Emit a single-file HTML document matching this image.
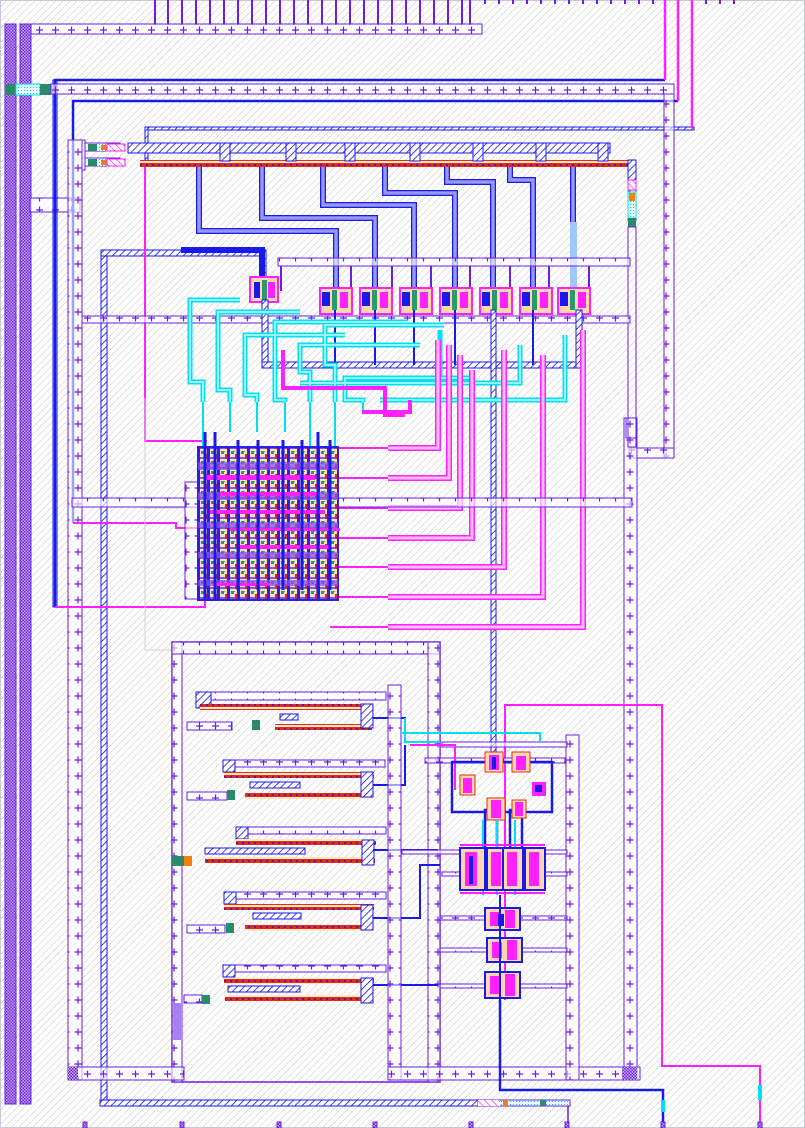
<!DOCTYPE html>
<html><head><meta charset="utf-8"><style>
html,body{margin:0;padding:0;background:#fff}
svg{display:block}
</style></head><body>
<svg width="805" height="1128" viewBox="0 0 805 1128" xmlns="http://www.w3.org/2000/svg" font-family="Liberation Sans, sans-serif">
<defs>
<pattern id="bg" width="5" height="5" patternUnits="userSpaceOnUse" patternTransform="rotate(-45)">
<rect width="5" height="5" fill="#fff"/><line x1="0" y1="0" x2="5" y2="0" stroke="#c4c4c4" stroke-width="1"/></pattern>
<pattern id="hb" width="5" height="5" patternUnits="userSpaceOnUse" patternTransform="rotate(-45)">
<rect width="5" height="5" fill="#fff"/><line x1="0" y1="0" x2="5" y2="0" stroke="#1010e0" stroke-width="1.6"/></pattern>
<pattern id="hp" width="5" height="5" patternUnits="userSpaceOnUse" patternTransform="rotate(45)">
<rect width="5" height="5" fill="#fff"/><line x1="0" y1="0" x2="5" y2="0" stroke="#ff20ff" stroke-width="1.4"/></pattern>
<pattern id="cy" width="3" height="3" patternUnits="userSpaceOnUse">
<rect width="3" height="3" fill="#e8ffff"/><rect width="1" height="1" fill="#00d8e8"/></pattern>
<pattern id="chk" width="3" height="3" patternUnits="userSpaceOnUse">
<rect width="3" height="3" fill="#c9b0f0"/><rect width="1.5" height="1.5" fill="#6a1ee0"/><rect x="1.5" y="1.5" width="1.5" height="1.5" fill="#6a1ee0"/></pattern>
<pattern id="plh" width="16" height="12" patternUnits="userSpaceOnUse">
<rect width="16" height="12" fill="#fff" fill-opacity="0.6"/><path d="M4 6h7M7.5 2.5v7" stroke="#6a1ee0" stroke-width="1.2"/></pattern>
<pattern id="plv" width="12" height="16" patternUnits="userSpaceOnUse">
<rect width="12" height="16" fill="#fff" fill-opacity="0.6"/><path d="M2.5 8h7M6 4.5v7" stroke="#6a1ee0" stroke-width="1.2"/></pattern>
<pattern id="red" width="6" height="6" patternUnits="userSpaceOnUse">
<rect width="6" height="6" fill="#ffe8c8"/><rect y="1" width="6" height="4" fill="#e82a10"/><circle cx="3" cy="3" r="1" fill="#1a1ae8"/></pattern>
<pattern id="mat" width="10" height="10" patternUnits="userSpaceOnUse">
<rect width="10" height="10" fill="#ffe0c0"/><rect x="1" y="1" width="3" height="3" fill="#2a9a6a"/><rect x="5" y="4" width="2" height="5" fill="#e02a10"/><rect x="7" y="0" width="3" height="10" fill="#2a20e8"/><rect x="0" y="7" width="5" height="2" fill="#8a50f0"/><rect x="4" y="1" width="1" height="1" fill="#20e020"/></pattern>
</defs>
<rect width="805" height="1128" fill="url(#bg)"/>
<rect x="0.5" y="0.5" width="804" height="1127" fill="none" stroke="#c8c8d8"/>

<!-- top pins -->
<g stroke="#6a1ee0" stroke-width="2">
<path d="M155 0v25M168 0v25M182 0v25M196 0v25M210 0v25M224 0v25M238 0v25M252 0v25M266 0v25M280 0v25M294 0v25M308 0v25M322 0v25M336 0v25M350 0v25M364 0v25M378 0v25M392 0v25M406 0v25M420 0v25M434 0v25M448 0v25M462 0v25M470 0v25"/>
</g>
<g fill="#6a1ee0"><rect x="484" y="0" width="2" height="4"/><rect x="498" y="0" width="2" height="4"/><rect x="512" y="0" width="2" height="4"/><rect x="526" y="0" width="2" height="4"/><rect x="540" y="0" width="2" height="4"/><rect x="554" y="0" width="2" height="4"/><rect x="568" y="0" width="2" height="4"/><rect x="582" y="0" width="2" height="4"/><rect x="596" y="0" width="2" height="4"/><rect x="610" y="0" width="2" height="4"/><rect x="624" y="0" width="2" height="4"/><rect x="638" y="0" width="2" height="4"/><rect x="652" y="0" width="2" height="4"/><rect x="705" y="0" width="2" height="4"/><rect x="719" y="0" width="2" height="4"/><rect x="733" y="0" width="2" height="4"/></g>

<!-- left bars -->
<rect x="5" y="24" width="11" height="1080" fill="url(#chk)" stroke="#6a1ee0"/>
<rect x="20" y="24" width="11" height="1080" fill="url(#chk)" stroke="#6a1ee0"/>
<rect x="5" y="84" width="11" height="11" fill="#2a8a6a"/><rect x="16" y="84" width="24" height="11" fill="url(#cy)" stroke="#00e0f0"/><rect x="40" y="84" width="11" height="11" fill="#2a8a6a"/>
<rect x="31" y="24" width="451" height="10" fill="url(#plh)" stroke="#6a1ee0"/>
<rect x="30" y="198" width="50" height="14" fill="url(#plh)" stroke="#6a1ee0"/>

<!-- upper rails -->
<path d="M55 607V80H665" fill="none" stroke="#1a1ae8" stroke-width="2.5"/>
<rect x="53" y="80" width="4" height="527" fill="none" stroke="#1a1ae8" stroke-width="1"/>
<rect x="51" y="84" width="623" height="10" fill="url(#plh)" stroke="#6a1ee0"/>
<path d="M73 523V101H678" fill="none" stroke="#1a1ae8" stroke-width="2.5"/>
<rect x="145" y="127" width="549" height="3" fill="url(#hb)" stroke="#1a1ae8"/>
<rect x="145" y="127" width="3" height="38" fill="url(#hb)" stroke="#1a1ae8"/>
<path d="M665 0v80M678 0v101M692 0v128" stroke="#ff20ff" stroke-width="2.5"/>
<rect x="664" y="94" width="10" height="364" fill="url(#plv)" stroke="#6a1ee0"/>
<rect x="629" y="448" width="45" height="10" fill="url(#plh)" stroke="#6a1ee0"/>
<rect x="624" y="418" width="13" height="662" fill="url(#plv)" stroke="#6a1ee0"/>
<rect x="626" y="418" width="10" height="20" fill="none" stroke="#6a1ee0"/>

<!-- left frame -->
<rect x="68" y="140" width="14" height="940" fill="url(#plv)" stroke="#6a1ee0"/>
<rect x="82" y="140" width="3" height="30" fill="none" stroke="#6a1ee0"/>
<rect x="101" y="250" width="6" height="855" fill="url(#hb)" stroke="#1a1ae8"/>
<rect x="101" y="250" width="160" height="6" fill="url(#hb)" stroke="#1a1ae8"/>
<rect x="260" y="250" width="6" height="40" fill="url(#hb)" stroke="#1a1ae8"/>
<path d="M145 165V441H207" fill="none" stroke="#ff20ff" stroke-width="2"/>
<path d="M55 607H205V590M73 523H176V528H205" fill="none" stroke="#ff20ff" stroke-width="2"/>
<path d="M145 398V650H395M145 508H395" fill="none" stroke="#d0d0d8" stroke-width="1"/>

<!-- top bus -->
<rect x="85" y="143" width="35" height="8" fill="none" stroke="#6a1ee0"/>
<rect x="85" y="158" width="35" height="8" fill="none" stroke="#6a1ee0"/>
<rect x="88" y="144" width="9" height="7" fill="#2a8a6a"/><rect x="88" y="159" width="9" height="7" fill="#2a8a6a"/>
<rect x="97" y="144" width="10" height="7" fill="url(#cy)"/><rect x="101" y="145" width="6" height="5" fill="#f08010"/>
<rect x="97" y="159" width="10" height="7" fill="url(#cy)"/><rect x="101" y="160" width="6" height="5" fill="#f08010"/>
<rect x="107" y="144" width="18" height="7" fill="url(#hp)" stroke="#ff20ff"/><rect x="107" y="159" width="18" height="7" fill="url(#hp)" stroke="#ff20ff"/>
<rect x="128" y="143" width="482" height="10" fill="url(#hb)" stroke="#1a1ae8"/>
<rect x="140" y="160" width="490" height="7" fill="url(#red)"/>
<g fill="url(#hb)" stroke="#1a1ae8">
<rect x="220" y="143" width="10" height="18"/><rect x="286" y="143" width="10" height="18"/><rect x="345" y="143" width="10" height="18"/><rect x="410" y="143" width="10" height="18"/><rect x="473" y="143" width="10" height="18"/><rect x="536" y="143" width="10" height="18"/><rect x="598" y="143" width="10" height="18"/>
</g>
<rect x="628" y="160" width="8" height="60" fill="url(#hb)" stroke="#1a1ae8"/>
<rect x="628" y="180" width="8" height="10" fill="url(#hp)" stroke="#ff20ff"/>
<rect x="628" y="192" width="8" height="26" fill="url(#cy)" stroke="#00e0f0"/><rect x="629" y="193" width="6" height="8" fill="#f08010"/>
<rect x="628" y="218" width="8" height="9" fill="#2a8a6a"/>
<rect x="628" y="227" width="8" height="220" fill="none" stroke="#6a1ee0"/>

<!-- branch routes -->
<g fill="none" stroke="#1a1ae8" stroke-width="6">
<path d="M199 167V231H336V290"/>
<path d="M262 167V218H375V290"/>
<path d="M323 167V205H414V290"/>
<path d="M385 167V193H455V290"/>
<path d="M447 167V182H493V290"/>
<path d="M510 167V180H533V290"/>
<path d="M573 167V222"/>
<path d="M181 250H262V290"/>
</g>
<g fill="none" stroke="#fff" stroke-width="3.5" opacity="0.55">
<path d="M199 167V231H336V290M262 167V218H375V290M323 167V205H414V290M385 167V193H455V290M447 167V182H493V290M510 167V180H533V290M573 167V222"/>
</g>
<rect x="570" y="222" width="7" height="66" fill="#a0c8ff"/>

<!-- transistor row rail -->
<rect x="278" y="258" width="352" height="8" fill="url(#plh)" stroke="#6a1ee0"/>
<rect x="82" y="316" width="548" height="7" fill="url(#plh)" stroke="#6a1ee0"/>
<g stroke="#6a1ee0" stroke-width="2"><path d="M281 266v25M351 266v25M392 266v25M431 266v25M470 266v25M510 266v25M549 266v25M589 266v25"/></g>

<!-- transistors -->
<g id="tr">
<g>
<rect x="250" y="277" width="28" height="25" fill="#ffd8b0" stroke="#ff20ff" stroke-width="2"/>
<rect x="254" y="282" width="6" height="16" fill="#1a1ae8"/><rect x="262" y="280" width="5" height="20" fill="#2a9a6a"/><rect x="268" y="282" width="7" height="16" fill="#ff20ff"/>
</g>
</g>
<g>
<rect x="320" y="288" width="32" height="26" fill="#ffd8b0" stroke="#ff20ff" stroke-width="2"/><rect x="322" y="292" width="8" height="14" fill="#1a1ae8"/><rect x="332" y="290" width="5" height="20" fill="#2a9a6a"/><rect x="340" y="292" width="8" height="16" fill="#ff20ff"/>
<rect x="360" y="288" width="32" height="26" fill="#ffd8b0" stroke="#ff20ff" stroke-width="2"/><rect x="362" y="292" width="8" height="14" fill="#1a1ae8"/><rect x="372" y="290" width="5" height="20" fill="#2a9a6a"/><rect x="380" y="292" width="8" height="16" fill="#ff20ff"/>
<rect x="400" y="288" width="32" height="26" fill="#ffd8b0" stroke="#ff20ff" stroke-width="2"/><rect x="402" y="292" width="8" height="14" fill="#1a1ae8"/><rect x="412" y="290" width="5" height="20" fill="#2a9a6a"/><rect x="420" y="292" width="8" height="16" fill="#ff20ff"/>
<rect x="440" y="288" width="32" height="26" fill="#ffd8b0" stroke="#ff20ff" stroke-width="2"/><rect x="442" y="292" width="8" height="14" fill="#1a1ae8"/><rect x="452" y="290" width="5" height="20" fill="#2a9a6a"/><rect x="460" y="292" width="8" height="16" fill="#ff20ff"/>
<rect x="480" y="288" width="32" height="26" fill="#ffd8b0" stroke="#ff20ff" stroke-width="2"/><rect x="482" y="292" width="8" height="14" fill="#1a1ae8"/><rect x="492" y="290" width="5" height="20" fill="#2a9a6a"/><rect x="500" y="292" width="8" height="16" fill="#ff20ff"/>
<rect x="520" y="288" width="32" height="26" fill="#ffd8b0" stroke="#ff20ff" stroke-width="2"/><rect x="522" y="292" width="8" height="14" fill="#1a1ae8"/><rect x="532" y="290" width="5" height="20" fill="#2a9a6a"/><rect x="540" y="292" width="8" height="16" fill="#ff20ff"/>
<rect x="558" y="288" width="32" height="26" fill="#ffd8b0" stroke="#ff20ff" stroke-width="2"/><rect x="560" y="292" width="8" height="14" fill="#1a1ae8"/><rect x="570" y="290" width="5" height="20" fill="#2a9a6a"/><rect x="578" y="292" width="8" height="16" fill="#ff20ff"/>
</g>

<!-- blue collector -->
<rect x="262" y="300" width="6" height="66" fill="url(#hb)" stroke="#1a1ae8"/>
<rect x="262" y="362" width="320" height="6" fill="url(#hb)" stroke="#1a1ae8"/>
<rect x="576" y="310" width="6" height="58" fill="url(#hb)" stroke="#1a1ae8"/>
<g stroke="#1a1ae8" stroke-width="2"><path d="M335 310v55M375 310v55M414 310v55M455 310v55M533 310v55"/></g>
<rect x="491" y="310" width="5" height="450" fill="url(#hb)" stroke="#1a1ae8"/>

<!-- cyan routes -->
<g fill="none" stroke="#00e0f0" stroke-width="5">
<path d="M203 402V382H190V300H240"/>
<path d="M230 402V390H218V312H300"/>
<path d="M257 402V395H245V335H345"/>
<path d="M285 402V400H275V322H408"/>
<path d="M310 402V372H300V345H420"/>
<path d="M335 402V365H325V325H444"/>
<path d="M363 402V400H345V378H470"/>
<path d="M520 345V383H300"/>
<path d="M565 335V400H380"/>
<path d="M440 330V380H345"/>
</g>
<g fill="none" stroke="#fff" stroke-width="2" opacity="0.6">
<path d="M203 402V382H190V300H240M230 402V390H218V312H300M257 402V395H245V335H345M285 402V400H275V322H408M310 402V372H300V345H420M335 402V365H325V325H444M363 402V400H345V378H470M520 345V383H300M565 335V400H380"/>
</g>
<g stroke="#00e0f0" stroke-width="2"><path d="M203 402v45M230 402v30M257 402v30M285 402v30M310 402v45M335 402v45M363 402v10"/></g>
<path d="M283 350V388H385V415H405M362 412H410V400" fill="none" stroke="#ff20ff" stroke-width="4"/>

<!-- pink L routes -->
<g fill="none" stroke="#ff20ff" stroke-width="6">
<path d="M388 448H438V340"/><path d="M388 478H449V345"/><path d="M388 508H460V355"/><path d="M388 538H472V370"/>
<path d="M388 567H504V350"/><path d="M388 597H543V355"/><path d="M388 627H583V330"/>
</g>
<g fill="none" stroke="#fff" stroke-width="3" opacity="0.7">
<path d="M388 448H438V340M388 478H449V345M388 508H460V355M388 538H472V370M388 567H504V350M388 597H543V355M388 627H583V330"/>
</g>
<g stroke="#ff20ff" stroke-width="2"><path d="M330 448H388M330 478H388M330 508H388M330 538H388M330 567H388M330 597H388M330 627H388"/></g>

<!-- horizontal rail mid -->
<rect x="72" y="498" width="560" height="9" fill="url(#plh)" stroke="#6a1ee0"/>

<!-- matrix -->
<rect x="185" y="482" width="15" height="117" fill="url(#plv)" stroke="#6a1ee0"/>
<rect x="198" y="447" width="140" height="153" fill="url(#mat)" stroke="#2a20e8" stroke-width="2"/>
<g fill="#8a50f0" opacity="0.75"><rect x="198" y="462" width="140" height="8"/><rect x="198" y="492" width="140" height="8"/><rect x="198" y="522" width="140" height="6"/><rect x="198" y="552" width="140" height="6"/><rect x="198" y="580" width="140" height="6"/></g>
<g fill="#ff20ff"><rect x="205" y="475" width="110" height="5"/><rect x="220" y="492" width="100" height="4"/><rect x="210" y="510" width="115" height="4"/><rect x="230" y="528" width="110" height="3"/><rect x="240" y="545" width="90" height="4"/><rect x="215" y="583" width="55" height="3"/></g>
<g stroke="#1a1ae8" stroke-width="3"><path d="M205 432V600M215 432V600M238 440V590M258 440V590M283 440V590M302 440V590M318 432V595M330 440V590"/></g>

<!-- bottom-left block -->
<rect x="172" y="642" width="268" height="440" fill="none" stroke="#6a1ee0" stroke-width="1.5"/>
<rect x="172" y="642" width="10" height="440" fill="url(#plv)" stroke="#6a1ee0"/>
<rect x="172" y="642" width="268" height="12" fill="url(#plh)" stroke="#6a1ee0"/>
<rect x="428" y="642" width="12" height="440" fill="url(#plv)" stroke="#6a1ee0"/>
<rect x="68" y="1067" width="116" height="13" fill="url(#plh)" stroke="#6a1ee0"/>
<rect x="68" y="1067" width="10" height="13" fill="url(#chk)"/>
<rect x="173" y="1003" width="8" height="37" fill="#a880f0"/>

<!-- resistor-like devices -->
<g>
<rect x="196" y="692" width="190" height="8" fill="url(#plh)" stroke="#6a1ee0"/>
<rect x="196" y="692" width="15" height="16" fill="url(#hb)" stroke="#1a1ae8"/>
<rect x="200" y="704" width="172" height="6" fill="url(#red)"/>
<rect x="187" y="722" width="45" height="8" fill="url(#plh)" stroke="#6a1ee0"/><rect x="252" y="720" width="8" height="10" fill="#2a8a6a"/>
<rect x="280" y="714" width="18" height="6" fill="url(#hb)" stroke="#1a1ae8"/>
<rect x="275" y="724" width="97" height="6" fill="url(#red)"/>
<rect x="361" y="704" width="12" height="24" fill="url(#hb)" stroke="#1a1ae8"/>

<rect x="223" y="760" width="162" height="7" fill="url(#plh)" stroke="#6a1ee0"/>
<rect x="223" y="760" width="12" height="12" fill="url(#hb)" stroke="#1a1ae8"/>
<rect x="224" y="772" width="150" height="6" fill="url(#red)"/>
<rect x="187" y="792" width="40" height="8" fill="url(#plh)" stroke="#6a1ee0"/><rect x="227" y="790" width="8" height="10" fill="#2a8a6a"/>
<rect x="250" y="782" width="50" height="6" fill="url(#hb)" stroke="#1a1ae8"/>
<rect x="245" y="793" width="128" height="6" fill="url(#red)"/>
<rect x="361" y="772" width="12" height="25" fill="url(#hb)" stroke="#1a1ae8"/>

<rect x="236" y="827" width="150" height="7" fill="url(#plh)" stroke="#6a1ee0"/>
<rect x="236" y="827" width="12" height="12" fill="url(#hb)" stroke="#1a1ae8"/>
<rect x="236" y="839" width="140" height="6" fill="url(#red)"/>
<rect x="205" y="848" width="100" height="6" fill="url(#hb)" stroke="#1a1ae8"/>
<rect x="172" y="856" width="12" height="10" fill="#2a8a6a"/><rect x="184" y="856" width="8" height="10" fill="#f08010"/>
<rect x="205" y="857" width="170" height="6" fill="url(#red)"/>
<rect x="362" y="840" width="12" height="25" fill="url(#hb)" stroke="#1a1ae8"/>

<rect x="224" y="892" width="162" height="7" fill="url(#plh)" stroke="#6a1ee0"/>
<rect x="224" y="892" width="12" height="12" fill="url(#hb)" stroke="#1a1ae8"/>
<rect x="224" y="904" width="150" height="6" fill="url(#red)"/>
<rect x="187" y="925" width="38" height="8" fill="url(#plh)" stroke="#6a1ee0"/><rect x="226" y="923" width="8" height="10" fill="#2a8a6a"/>
<rect x="253" y="913" width="48" height="6" fill="url(#hb)" stroke="#1a1ae8"/>
<rect x="245" y="925" width="128" height="6" fill="url(#red)"/>
<rect x="361" y="905" width="12" height="25" fill="url(#hb)" stroke="#1a1ae8"/>

<rect x="223" y="965" width="163" height="7" fill="url(#plh)" stroke="#6a1ee0"/>
<rect x="223" y="965" width="12" height="12" fill="url(#hb)" stroke="#1a1ae8"/>
<rect x="224" y="978" width="150" height="6" fill="url(#red)"/>
<rect x="228" y="986" width="72" height="6" fill="url(#hb)" stroke="#1a1ae8"/>
<rect x="184" y="995" width="18" height="8" fill="url(#plh)" stroke="#6a1ee0"/><rect x="202" y="995" width="8" height="9" fill="#2a8a6a"/>
<rect x="225" y="995" width="148" height="6" fill="url(#red)"/>
<rect x="361" y="978" width="12" height="25" fill="url(#hb)" stroke="#1a1ae8"/>
</g>
<g stroke="#1a1ae8" stroke-width="2" fill="none">
<path d="M373 718H405V733"/><path d="M373 785H405V745"/><path d="M373 850H438"/><path d="M373 918H420V865H440"/><path d="M373 985H438"/>
</g>
<path d="M405 718V742H440" fill="none" stroke="#00e0f0" stroke-width="2"/>

<!-- bottom-right block -->
<rect x="388" y="685" width="13" height="395" fill="url(#plv)" stroke="#6a1ee0"/>
<rect x="388" y="1067" width="252" height="13" fill="url(#plh)" stroke="#6a1ee0"/>
<rect x="566" y="735" width="13" height="345" fill="url(#plv)" stroke="#6a1ee0"/>
<rect x="622" y="1067" width="15" height="13" fill="url(#chk)"/>
<path d="M505 1000V705H662V1066H760V1128" fill="none" stroke="#ff20ff" stroke-width="2"/>
<path d="M500 1000V1090H663V1128" fill="none" stroke="#1a1ae8" stroke-width="2.5"/>
<rect x="758" y="1085" width="4" height="15" fill="#00e0f0"/>
<rect x="661" y="1100" width="4" height="12" fill="#00e0f0"/>

<rect x="442" y="742" width="125" height="5" fill="url(#plh)" stroke="#6a1ee0"/>
<rect x="425" y="758" width="140" height="5" fill="url(#plh)" stroke="#6a1ee0"/>
<path d="M402 733H540V742" fill="none" stroke="#00e0f0" stroke-width="2"/>
<path d="M410 745H455V790" fill="none" stroke="#ff20ff" stroke-width="2"/>
<g fill="none" stroke="#1a1ae8" stroke-width="2.5">
<rect x="452" y="762" width="100" height="50"/>
<rect x="485" y="810" width="12" height="60"/>
<rect x="510" y="810" width="12" height="60"/>
</g>
<g>
<rect x="485" y="752" width="18" height="20" fill="#ffd8b0" stroke="#e82a10"/><rect x="489" y="755" width="10" height="15" fill="#ff20ff"/><rect x="492" y="757" width="4" height="12" fill="#1a1ae8"/>
<rect x="512" y="752" width="18" height="20" fill="#ffd8b0" stroke="#e82a10"/><rect x="516" y="756" width="10" height="14" fill="#ff20ff"/>
<rect x="460" y="775" width="15" height="20" fill="#ffd8b0" stroke="#e82a10"/><rect x="463" y="778" width="9" height="15" fill="#ff20ff"/>
<rect x="532" y="782" width="14" height="14" fill="#ff20ff"/><rect x="535" y="785" width="7" height="7" fill="#1a1ae8"/>
<rect x="487" y="798" width="18" height="22" fill="#ffd8b0" stroke="#e82a10"/><rect x="491" y="800" width="10" height="18" fill="#ff20ff"/>
<rect x="512" y="800" width="14" height="18" fill="#ffd8b0" stroke="#e82a10"/><rect x="515" y="802" width="8" height="14" fill="#ff20ff"/>
</g>
<g fill="none" stroke="#00e0f0" stroke-width="2"><path d="M483 820V895M497 820V895M515 820V895"/></g>
<rect x="402" y="850" width="165" height="4" fill="url(#plh)" stroke="#6a1ee0"/>
<rect x="442" y="872" width="125" height="4" fill="url(#plh)" stroke="#6a1ee0"/>
<g>
<rect x="460" y="848" width="25" height="42" fill="#ffd8b0" stroke="#1a1ae8" stroke-width="2"/><rect x="465" y="852" width="12" height="34" fill="#ff20ff"/><rect x="469" y="856" width="4" height="28" fill="#1a1ae8"/>
<rect x="487" y="848" width="20" height="42" fill="#ffd8b0" stroke="#1a1ae8" stroke-width="2"/><rect x="491" y="852" width="10" height="34" fill="#ff20ff"/>
<rect x="503" y="848" width="20" height="42" fill="#ffd8b0" stroke="#1a1ae8" stroke-width="2"/><rect x="507" y="852" width="10" height="34" fill="#ff20ff"/>
<rect x="525" y="848" width="20" height="42" fill="#ffd8b0" stroke="#1a1ae8" stroke-width="2"/><rect x="529" y="852" width="10" height="34" fill="#ff20ff"/>
</g>
<path d="M460 845H545M460 893H545" stroke="#ff20ff" stroke-width="2"/>
<rect x="440" y="916" width="127" height="4" fill="url(#plh)" stroke="#6a1ee0"/>
<rect x="440" y="948" width="127" height="4" fill="url(#plh)" stroke="#6a1ee0"/>
<rect x="440" y="984" width="127" height="4" fill="url(#plh)" stroke="#6a1ee0"/>
<g>
<rect x="485" y="908" width="35" height="22" fill="#ffd8b0" stroke="#1a1ae8" stroke-width="2"/><rect x="490" y="912" width="10" height="14" fill="#ff20ff"/><rect x="505" y="910" width="10" height="18" fill="#ff20ff"/><rect x="498" y="914" width="6" height="12" fill="#1a1ae8"/>
<rect x="487" y="938" width="35" height="24" fill="#ffd8b0" stroke="#1a1ae8" stroke-width="2"/><rect x="492" y="942" width="10" height="16" fill="#ff20ff"/><rect x="507" y="940" width="10" height="20" fill="#ff20ff"/>
<rect x="485" y="972" width="35" height="26" fill="#ffd8b0" stroke="#1a1ae8" stroke-width="2"/><rect x="490" y="976" width="10" height="18" fill="#ff20ff"/><rect x="505" y="974" width="10" height="22" fill="#ff20ff"/>
</g>
<path d="M500 895V1000" stroke="#1a1ae8" stroke-width="2"/>

<!-- bottom line -->
<rect x="100" y="1100" width="380" height="6" fill="url(#hb)" stroke="#1a1ae8"/>
<rect x="478" y="1100" width="92" height="6" fill="url(#cy)" stroke="#6a1ee0"/>
<rect x="478" y="1100" width="22" height="6" fill="url(#hp)"/><rect x="503" y="1100" width="5" height="6" fill="#f08010"/><rect x="540" y="1100" width="6" height="6" fill="#2a8a6a"/>
<path d="M568 1106V1128" stroke="#6a1ee0" stroke-width="1.5"/>
<g fill="url(#chk)" stroke="#6a1ee0"><rect x="83" y="1122" width="4" height="6"/><rect x="180" y="1122" width="4" height="6"/><rect x="277" y="1122" width="4" height="6"/><rect x="373" y="1122" width="4" height="6"/><rect x="469" y="1122" width="4" height="6"/><rect x="565" y="1122" width="4" height="6"/><rect x="661" y="1122" width="4" height="6"/><rect x="758" y="1122" width="4" height="6"/></g>
</svg>
</body></html>
